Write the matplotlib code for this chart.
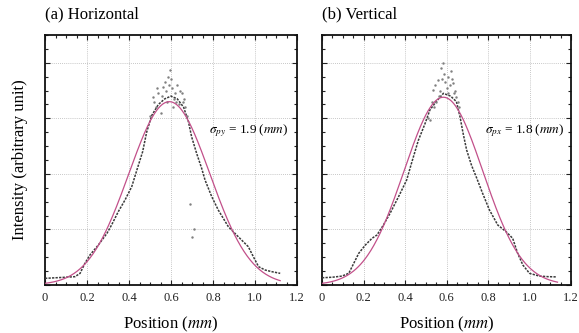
import numpy as np
import matplotlib
matplotlib.use("Agg")
import matplotlib.pyplot as plt
from matplotlib.ticker import MultipleLocator, FixedLocator, FixedFormatter

# ---------------- data ----------------
xa = [0, 0.05, 0.10, 0.143, 0.167, 0.19, 0.214, 0.254, 0.295, 0.317, 0.349,
      0.381, 0.413, 0.44, 0.465, 0.484, 0.508, 0.54, 0.57, 0.60, 0.63, 0.66,
      0.683, 0.698, 0.722, 0.746, 0.762, 0.794, 0.825, 0.873, 0.92, 0.968,
      0.992, 1.017, 1.048, 1.08, 1.12]
ya = [0.12, 0.13, 0.14, 0.15, 0.21, 0.39, 0.54, 0.72, 0.93, 1.08, 1.32,
      1.53, 1.77, 2.10, 2.40, 2.75, 3.05, 3.25, 3.35, 3.40, 3.35, 3.20,
      2.94, 2.67, 2.37, 2.10, 1.89, 1.59, 1.35, 1.05, 0.87, 0.69,
      0.51, 0.33, 0.27, 0.24, 0.21]
xa_peak = [0.516, 0.54, 0.564, 0.595, 0.60, 0.58, 0.619, 0.65, 0.667, 0.53,
           0.55, 0.63, 0.61, 0.64, 0.57, 0.52, 0.535, 0.555, 0.575, 0.585,
           0.59, 0.605, 0.615, 0.625, 0.645, 0.655, 0.66, 0.50, 0.675,
           0.69, 0.70, 0.71]
ya_peak = [3.39, 3.45, 3.57, 3.87, 3.70, 3.30, 3.45, 3.45, 3.21, 3.20,
           3.10, 3.60, 3.20, 3.25, 3.65, 3.30, 3.55, 3.40, 3.50, 3.75,
           3.60, 3.55, 3.35, 3.30, 3.50, 3.30, 3.35, 3.05, 3.05,
           1.45, 0.87, 1.00]

xb = [0, 0.05, 0.096, 0.129, 0.153, 0.177, 0.209, 0.241, 0.265, 0.296, 0.328,
      0.369, 0.408, 0.432, 0.464, 0.496, 0.52, 0.55, 0.585, 0.62, 0.648,
      0.665, 0.68, 0.697, 0.721, 0.745, 0.774, 0.807, 0.847, 0.887, 0.919,
      0.943, 0.968, 1.0, 1.048, 1.09, 1.128]
yb = [0.13, 0.14, 0.16, 0.21, 0.39, 0.57, 0.72, 0.84, 0.90, 1.08, 1.29,
      1.59, 1.89, 2.20, 2.60, 2.90, 3.15, 3.30, 3.45, 3.40, 3.30,
      3.03, 2.73, 2.43, 2.15, 1.93, 1.65, 1.35, 1.08, 0.96, 0.84,
      0.57, 0.36, 0.21, 0.16, 0.15, 0.146]
xb_peak = [0.536, 0.56, 0.584, 0.59, 0.608, 0.632, 0.648, 0.57, 0.60, 0.62,
           0.55, 0.64, 0.575, 0.53, 0.66, 0.52, 0.545, 0.565, 0.58, 0.595,
           0.605, 0.615, 0.625, 0.635, 0.655, 0.54, 0.51]
yb_peak = [3.51, 3.69, 3.99, 3.80, 3.75, 3.63, 3.39, 3.50, 3.55, 3.85,
           3.30, 3.50, 3.90, 3.30, 3.20, 2.97, 3.60, 3.40, 3.70, 3.65,
           3.45, 3.60, 3.70, 3.45, 3.30, 3.20, 3.00]

# Gaussian fit parameters (amplitude, centre, sigma, x-range end)
fit_a = dict(amp=3.30, mu=0.592, sig=0.193, xmax=1.12)
fit_b = dict(amp=3.38, mu=0.585, sig=0.190, xmax=1.135)

titles = ["(a) Horizontal", "(b) Vertical"]
sigma_texts = [r"$\sigma_{py}$ = 1.9 ($mm$)", r"$\sigma_{px}$ = 1.8 ($mm$)"]
xticks = [0, 0.2, 0.4, 0.6, 0.8, 1.0, 1.2]
xticklabels = ["0", "0.2", "0.4", "0.6", "0.8", "1.0", "1.2"]

# ---------------- style ----------------
plt.rcParams["font.family"] = ["Liberation Serif", "DejaVu Serif"]
plt.rcParams["mathtext.fontset"] = "stix"

fig = plt.figure(figsize=(5.79, 3.33), dpi=100)
W, H = 579, 333
ax_a = fig.add_axes([45 / W, (H - 285) / H, 252 / W, 250 / H])
ax_b = fig.add_axes([322 / W, (H - 285) / H, 249 / W, 250 / H])

fit_color = "#c2508a"
panels = [(ax_a, xa, ya, xa_peak, ya_peak, fit_a),
          (ax_b, xb, yb, xb_peak, yb_peak, fit_b)]

for i, (ax, x, y, xp, yp, fit) in enumerate(panels):
    ax.plot(x, y, color="#3a3a3a", lw=1.1, ls=(0, (1.5, 0.8)), zorder=3)
    ax.plot(xp, yp, ls="none", marker=".", ms=1.5, color="#808080", zorder=3)
    xf = np.linspace(0, fit["xmax"], 300)
    yf = fit["amp"] * np.exp(-(xf - fit["mu"]) ** 2 / (2 * fit["sig"] ** 2))
    ax.plot(xf, yf, color=fit_color, lw=0.9, zorder=4)

    ax.set_xlim(0, 1.2)
    ax.set_ylim(0, 4.5)
    ax.xaxis.set_major_locator(FixedLocator(xticks))
    ax.xaxis.set_major_formatter(FixedFormatter(xticklabels))
    ax.xaxis.set_minor_locator(MultipleLocator(0.05))
    ax.yaxis.set_major_locator(MultipleLocator(1))
    ax.yaxis.set_minor_locator(MultipleLocator(0.25))
    ax.tick_params(which="both", direction="in", top=True, right=True,
                   labelsize=9, width=0.8, colors="#222222")
    ax.tick_params(which="major", length=3.5, pad=5)
    ax.tick_params(which="minor", length=2.5)
    ax.tick_params(axis="y", which="both", labelleft=False)
    ax.grid(True, which="major", ls=(0, (1, 1.5)), color="#b5b5b5", lw=0.6)
    for s in ax.spines.values():
        s.set_linewidth(1.3)
        s.set_color("#111111")
    ax.set_xlabel(r"Position ($mm$)", fontsize=12, labelpad=8)
    ax.text(0.0, 1.05, titles[i], transform=ax.transAxes, fontsize=12,
            ha="left", va="bottom")
    ax.text(0.78 if i == 0 else 0.785, 2.77, sigma_texts[i], fontsize=9.5,
            ha="left", va="center")

ax_a.set_ylabel("Intensity (arbitrary unit)", fontsize=12, labelpad=12)

fig.savefig("out.png", dpi=100)
